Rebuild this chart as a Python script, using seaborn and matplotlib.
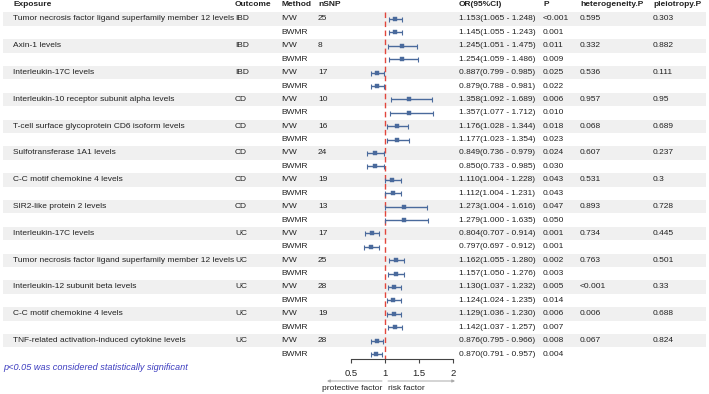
"""
Forest plot of MR estimates (IVW and BWMR) for proteins vs IBD / CD / UC,
with the summary table written next to it.
"""
import matplotlib.pyplot as plt
import matplotlib.transforms as mtransforms
from matplotlib.patches import Rectangle
import numpy as np
import pandas as pd
import seaborn as sns

sns.set_style("white")
plt.rcParams["font.family"] = ["Liberation Sans", "DejaVu Sans"]

EXPOSURE = [
    "Tumor necrosis factor ligand superfamily member 12 levels",
    "Axin-1 levels",
    "Interleukin-17C levels",
    "Interleukin-10 receptor subunit alpha levels",
    "T-cell surface glycoprotein CD6 isoform levels",
    "Sulfotransferase 1A1 levels",
    "C-C motif chemokine 4 levels",
    "SIR2-like protein 2 levels",
    "Interleukin-17C levels",
    "Tumor necrosis factor ligand superfamily member 12 levels",
    "Interleukin-12 subunit beta levels",
    "C-C motif chemokine 4 levels",
    "TNF-related activation-induced cytokine levels",
]
OUTCOME = ["IBD", "IBD", "IBD", "CD", "CD", "CD", "CD", "CD", "UC", "UC", "UC", "UC", "UC"]
NSNP = [25, 8, 17, 10, 16, 24, 19, 13, 17, 25, 28, 19, 28]

IVW_OR = [1.153, 1.245, 0.887, 1.358, 1.176, 0.849, 1.110, 1.273, 0.804, 1.162, 1.130, 1.129, 0.876]
IVW_LO = [1.065, 1.051, 0.799, 1.092, 1.028, 0.736, 1.004, 1.004, 0.707, 1.055, 1.037, 1.036, 0.795]
IVW_HI = [1.248, 1.475, 0.985, 1.689, 1.344, 0.979, 1.228, 1.616, 0.914, 1.280, 1.232, 1.230, 0.966]
IVW_P = ["<0.001", "0.011", "0.025", "0.006", "0.018", "0.024", "0.043", "0.047", "0.001", "0.002",
         "0.005", "0.006", "0.008"]

BWMR_OR = [1.145, 1.254, 0.879, 1.357, 1.177, 0.850, 1.112, 1.279, 0.797, 1.157, 1.124, 1.142, 0.870]
BWMR_LO = [1.055, 1.059, 0.788, 1.077, 1.023, 0.733, 1.004, 1.000, 0.697, 1.050, 1.024, 1.037, 0.791]
BWMR_HI = [1.243, 1.486, 0.981, 1.712, 1.354, 0.985, 1.231, 1.635, 0.912, 1.276, 1.235, 1.257, 0.957]
BWMR_P = ["0.001", "0.009", "0.022", "0.010", "0.023", "0.030", "0.043", "0.050", "0.001", "0.003",
          "0.014", "0.007", "0.004"]

HETERO_P = ["0.595", "0.332", "0.536", "0.957", "0.068", "0.607", "0.531", "0.893", "0.734", "0.763",
            "<0.001", "0.006", "0.067"]
PLEIO_P = ["0.303", "0.882", "0.111", "0.95", "0.689", "0.237", "0.3", "0.728", "0.445", "0.501",
           "0.33", "0.688", "0.824"]

XTICKS = [0.5, 1, 1.5, 2]
XTICKLABELS = ["0.5", "1", "1.5", "2"]

FS = 6.0
TXT = "#222222"
BLUE = "#4a6a9c"
RED = "#e2463c"
W, H = 709, 394


def fmt_or(o, lo, hi):
    return "{:.3f}({:.3f} - {:.3f})".format(o, lo, hi)


# one row per estimate, IVW first then BWMR
rows = []
for i in range(len(EXPOSURE)):
    rows.append(dict(method="IVW", odds=IVW_OR[i], lo=IVW_LO[i], hi=IVW_HI[i], p=IVW_P[i], k=i))
    rows.append(dict(method="BWMR", odds=BWMR_OR[i], lo=BWMR_LO[i], hi=BWMR_HI[i], p=BWMR_P[i], k=i))
df = pd.DataFrame(rows)
df["row"] = np.arange(len(df))

fig = plt.figure(figsize=(W / 100, H / 100), dpi=100)

y0, pitch = 19, 13.4
axis_px = 359
ax = fig.add_axes([351 / W, 1 - axis_px / H, 102 / W, axis_px / H])
ax.patch.set_alpha(0)
ax.set_xlim(0.5, 2)
ybot = (axis_px - y0) / pitch
ax.set_ylim(ybot, -y0 / pitch)

# x in figure coords, y in rows
trow = mtransforms.blended_transform_factory(fig.transFigure, ax.transData)
# x in data, y in figure coords
tfoot = mtransforms.blended_transform_factory(ax.transData, fig.transFigure)

# grey band behind every IVW row
for r in df.loc[df["method"] == "IVW", "row"]:
    ax.add_patch(Rectangle((3 / W, r - 0.5), 703 / W, 1, transform=trow,
                           facecolor="#f0f0f0", edgecolor="none", zorder=0, clip_on=False))

ax.vlines(1, -0.5, ybot, colors=RED, linestyles=(0, (4, 2.5)), lw=1, zorder=1, clip_on=False)

ax.errorbar(df["odds"], df["row"], xerr=[df["odds"] - df["lo"], df["hi"] - df["odds"]],
            fmt="none", ecolor=BLUE, elinewidth=1, capsize=1.8, capthick=0.8, zorder=2)
sns.scatterplot(data=df, x="odds", y="row", marker="s", s=11, color=BLUE, edgecolor=BLUE,
                linewidth=0.3, ax=ax, zorder=3, legend=False)
ax.set_xlabel("")
ax.set_ylabel("")

for side in ["left", "top", "right"]:
    ax.spines[side].set_visible(False)
ax.spines["bottom"].set_color("#444444")
ax.spines["bottom"].set_linewidth(0.8)
ax.set_xticks(XTICKS)
ax.set_xticklabels(XTICKLABELS)
ax.set_yticks([])
ax.tick_params(axis="x", bottom=True, direction="out", length=3, width=0.8, pad=4,
               labelsize=FS + 0.8, colors="#444444", labelcolor=TXT)

# table
cols = {"Exposure": 13, "Outcome": 235, "Method": 281, "nSNP": 318,
        "OR(95%CI)": 459, "P": 543, "heterogeneity.P": 580, "pleiotropy.P": 653}
yhead = (5 - y0) / pitch
for name, px in cols.items():
    ax.text(px / W, yhead, name, transform=trow, fontsize=FS, fontweight="bold",
            color=TXT, va="center", ha="left", clip_on=False)

for _, d in df.iterrows():
    r = d["row"]
    cells = [(cols["Method"], d["method"]),
             (cols["OR(95%CI)"], fmt_or(d["odds"], d["lo"], d["hi"])),
             (cols["P"], d["p"])]
    if d["method"] == "IVW":
        k = d["k"]
        cells += [(cols["Exposure"], EXPOSURE[k]), (cols["Outcome"], OUTCOME[k]),
                  (cols["nSNP"], str(NSNP[k])), (cols["heterogeneity.P"], HETERO_P[k]),
                  (cols["pleiotropy.P"], PLEIO_P[k])]
    for px, s in cells:
        ax.text(px / W, r, s, transform=trow, fontsize=FS, color=TXT,
                va="center", ha="left", clip_on=False)

fig.text(3 / W, 1 - 367 / H, "p<0.05 was considered statistically significant",
         fontsize=FS + 0.6, style="italic", color="#3d3dc0", va="center", ha="left")

# direction arrows under the axis
ya = 1 - 381 / H
arrow = dict(arrowstyle="-|>", color="#aaaaaa", lw=0.7, mutation_scale=4, shrinkA=0, shrinkB=0)
ax.annotate("", xy=(0.147, ya), xytext=(0.956, ya), xycoords=tfoot, arrowprops=arrow,
            annotation_clip=False)
ax.annotate("", xy=(2.03, ya), xytext=(1.044, ya), xycoords=tfoot, arrowprops=arrow,
            annotation_clip=False)
yl = 1 - 389 / H
ax.text(0.956, yl, "protective factor", transform=tfoot, fontsize=FS, color=TXT,
        ha="right", va="center", clip_on=False)
ax.text(1.044, yl, "risk factor", transform=tfoot, fontsize=FS, color=TXT,
        ha="left", va="center", clip_on=False)

fig.savefig("out.png", dpi=100)
